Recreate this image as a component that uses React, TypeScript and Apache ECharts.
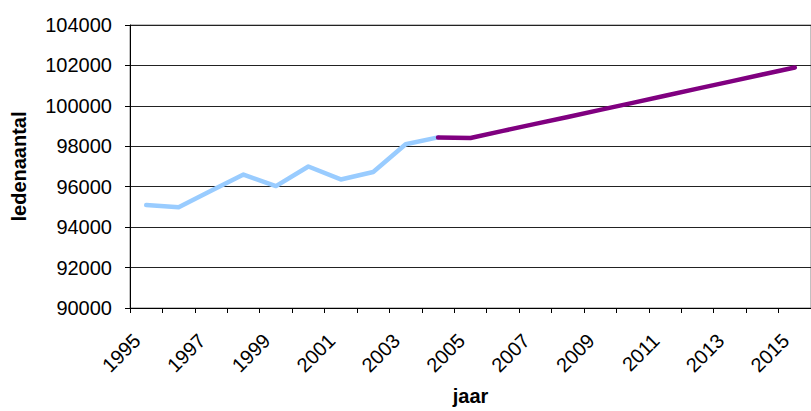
import React, { useEffect, useRef } from "react";
import * as echarts from "echarts";

const years = [
  "1995", "1996", "1997", "1998", "1999", "2000", "2001", "2002", "2003", "2004", "2005",
  "2006", "2007", "2008", "2009", "2010", "2011", "2012", "2013", "2014", "2015",
];

// historical membership (light blue), 1995–2004
const actual = [95090, 94980, 95800, 96600, 96030, 97000, 96360, 96730, 98100, 98440];

// projection (purple), 2004–2015
const projection = [98440, 98410, 98760, 99110, 99450, 99800, 100150, 100500, 100850, 101200, 101550, 101900];

const yMin = 90000;
const yMax = 104000;
const yStep = 2000;

const FONT = "'Liberation Sans', Arial, sans-serif";

export default function App() {
  const ref = useRef<HTMLDivElement>(null);

  useEffect(() => {
    if (!ref.current) return;
    const chart = echarts.init(ref.current, undefined, { renderer: "svg" });

    const actualData = years.map((_, i) => (i < actual.length ? actual[i] : null));
    const projStart = actual.length - 1;
    const projData = years.map((_, i) =>
      i >= projStart && i - projStart < projection.length ? projection[i - projStart] : null
    );

    chart.setOption({
      animation: false,
      backgroundColor: "#ffffff",
      textStyle: { fontFamily: FONT },
      grid: {
        left: 130,
        top: 25,
        bottom: 100,
        right: -6,
        show: true,
        borderColor: "#808080",
        borderWidth: 1,
        backgroundColor: "transparent",
      },
      xAxis: {
        type: "category",
        data: years,
        boundaryGap: true,
        name: "jaar",
        nameLocation: "middle",
        nameGap: 78,
        nameTextStyle: { fontFamily: FONT, fontSize: 20, fontWeight: "bold", color: "#000" },
        axisLine: { show: true, lineStyle: { color: "#000", width: 1 } },
        axisTick: { show: true, interval: 0, length: 5, lineStyle: { color: "#000" } },
        axisLabel: {
          interval: 1,
          rotate: 45,
          margin: 20,
          padding: [0, 13, 0, 0],
          fontFamily: FONT,
          fontSize: 20,
          color: "#000",
        },
        splitLine: { show: false },
      },
      yAxis: {
        type: "value",
        min: yMin,
        max: yMax,
        interval: yStep,
        name: "ledenaantal",
        nameLocation: "middle",
        nameGap: 101,
        nameTextStyle: { fontFamily: FONT, fontSize: 20, fontWeight: "bold", color: "#000" },
        axisLine: { show: true, lineStyle: { color: "#000", width: 1 } },
        axisTick: { show: true, length: 5, lineStyle: { color: "#000" } },
        axisLabel: {
          margin: 18,
          fontFamily: FONT,
          fontSize: 20,
          color: "#000",
          formatter: (v: number) => String(v),
        },
        splitLine: { show: true, lineStyle: { color: "#222", width: 1 } },
      },
      series: [
        {
          type: "line",
          data: actualData,
          symbol: "none",
          connectNulls: false,
          lineStyle: { color: "#99CCFF", width: 4.5, cap: "round", join: "round" },
          itemStyle: { color: "#99CCFF" },
          z: 2,
        },
        {
          type: "line",
          data: projData,
          symbol: "none",
          connectNulls: false,
          lineStyle: { color: "#800080", width: 4.5, cap: "round", join: "round" },
          itemStyle: { color: "#800080" },
          z: 3,
        },
      ],
    });

    return () => chart.dispose();
  }, []);

  return (
    <div
      ref={ref}
      style={{ position: "fixed", left: 0, top: 0, width: 811, height: 411, overflow: "hidden" }}
    />
  );
}
